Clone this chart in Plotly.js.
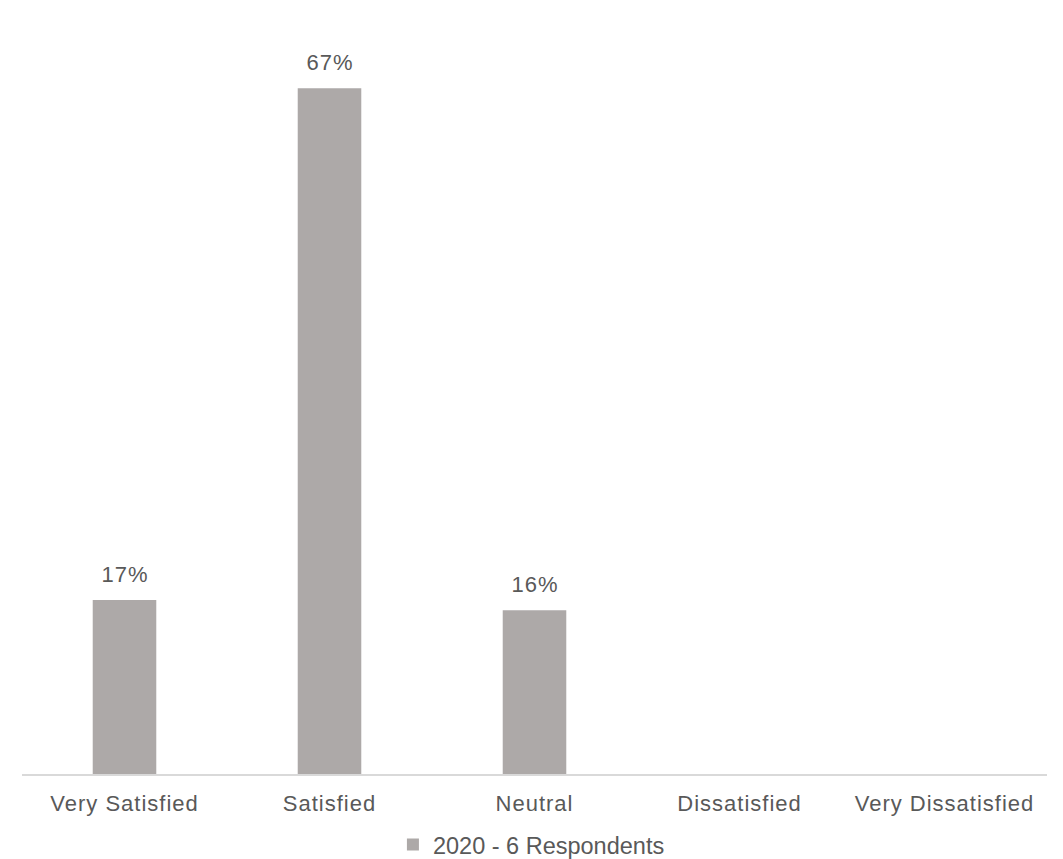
<!DOCTYPE html>
<html>
<head>
<meta charset="utf-8">
<script src="https://cdn.plot.ly/plotly-3.0.1.min.js"></script>
<style>
html, body { margin: 0; padding: 0; background: #fff; }
#chart { width: 1063px; height: 859px; }
#chart .xtick text, #chart .annotation-text { letter-spacing: 1px; }
</style>
</head>
<body>
<div id="chart"></div>
<script>
const categories = ["Very Satisfied", "Satisfied", "Neutral", "Dissatisfied", "Very Dissatisfied"];
const values2020 = [17, 67, 16, 0, 0];
const seriesName = "2020 - 6 Respondents";

const textColor = "#595959";
const barColor = "#ADA9A8";
const fontFamily = "Liberation Sans, Arial, sans-serif";

const trace = {
  type: "bar",
  x: categories,
  y: values2020,
  name: seriesName,
  marker: { color: barColor },
  showlegend: true,
  hoverinfo: "x+y"
};

const annotations = [];
categories.forEach((c, i) => {
  if (values2020[i] > 0) {
    annotations.push({
      x: c, y: values2020[i], xref: "x", yref: "y",
      text: values2020[i] + "%",
      showarrow: false, yanchor: "bottom", yshift: 11,
      font: { family: fontFamily, size: 22, color: textColor }
    });
  }
});

const layout = {
  width: 1063, height: 859,
  margin: { l: 22, r: 16, t: 37, b: 85, autoexpand: false },
  paper_bgcolor: "#fff", plot_bgcolor: "#fff",
  bargap: 0.69,
  font: { family: fontFamily, size: 22, color: textColor },
  xaxis: {
    showline: true, linecolor: "#d9d9d9", linewidth: 2,
    ticks: "", showgrid: false, zeroline: false,
    tickfont: { family: fontFamily, size: 22, color: textColor },
    ticklabelstandoff: 9,
    automargin: false
  },
  yaxis: {
    range: [0, 72], visible: false, showgrid: false, zeroline: false, automargin: false
  },
  showlegend: true,
  legend: {
    orientation: "h", x: 0.497, xanchor: "center", y: -0.096, yanchor: "middle",
    font: { family: fontFamily, size: 23.5, color: textColor },
    itemwidth: 30
  },
  annotations: annotations
};

Plotly.newPlot("chart", [trace], layout, { displayModeBar: false, staticPlot: true });
</script>
</body>
</html>
